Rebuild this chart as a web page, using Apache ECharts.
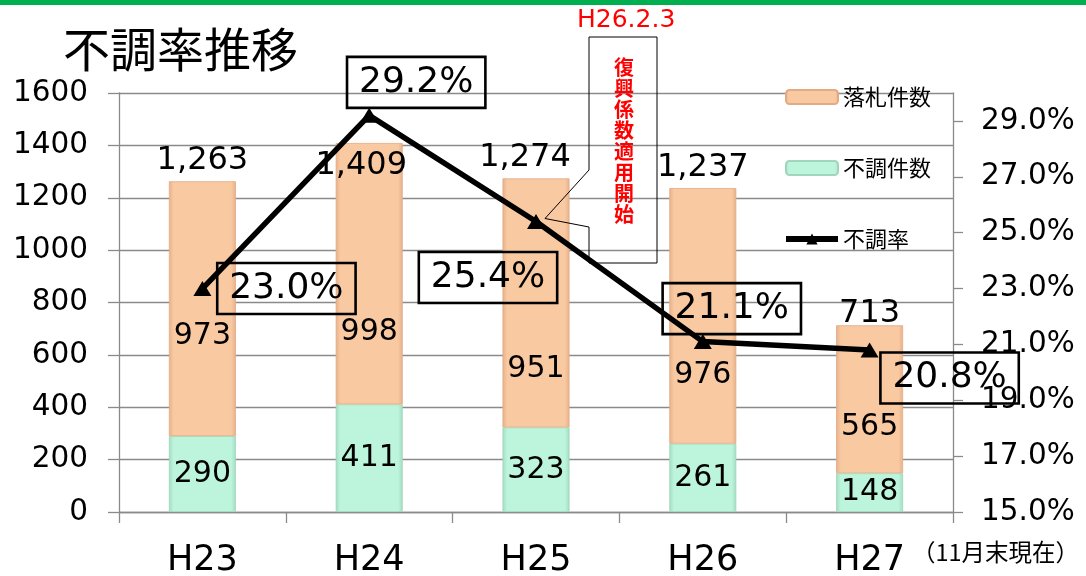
<!DOCTYPE html>
<html>
<head>
<meta charset="utf-8">
<script src="https://cdn.jsdelivr.net/npm/echarts@6/dist/echarts.min.js"></script>
<style>
  html, body { margin: 0; padding: 0; background: #fff; }
  #chart { width: 1086px; height: 576px; }
</style>
</head>
<body>
<div id="chart"></div>
<script>
// ---- data ----
const categories = ['H23', 'H24', 'H25', 'H26', 'H27'];
const fuchoCounts = [290, 411, 323, 261, 148];        // 不調件数
const rakusatsuCounts = [973, 998, 951, 976, 565];    // 落札件数
const fuchoRates = [23.0, 29.2, 25.4, 21.1, 20.8];    // 不調率 (%)
const rightTickValues = [15, 17, 19, 21, 23, 25, 27, 29];

// ---- label placement (style only) ----
const rakusatsuLabelDy = [28, 59, 66, 59, 28];
const totalLabelOffsets = [[0, 0], [-8, 43], [-11, 0], [0, 0], [0, 9]];
const rateLabelOffsets = [[84, 0], [47, -33], [-48, 56], [29, -33], [80, 28]];

const totals = categories.map((_, i) => fuchoCounts[i] + rakusatsuCounts[i]);

const NUM_FONT = "'DejaVu Sans', 'Noto Sans CJK JP', sans-serif";
const JP_FONT = "'Noto Sans CJK JP', 'DejaVu Sans', sans-serif";
const GRID_COLOR = '#8a8a8a';

const orangeFill = new echarts.graphic.LinearGradient(0, 0, 1, 0, [
  { offset: 0, color: '#e6b089' },
  { offset: 0.07, color: '#f9c9a1' },
  { offset: 0.93, color: '#f9c9a1' },
  { offset: 1, color: '#e6b089' }
]);
const greenFill = new echarts.graphic.LinearGradient(0, 0, 1, 0, [
  { offset: 0, color: '#a3dcc1' },
  { offset: 0.07, color: '#bdf5dc' },
  { offset: 0.93, color: '#bdf5dc' },
  { offset: 1, color: '#a3dcc1' }
]);

const chart = echarts.init(document.getElementById('chart'), null, { renderer: 'canvas' });

const option = {
  animation: false,
  backgroundColor: '#fff',
  grid: { left: 119, right: 133, top: 93, bottom: 64, containLabel: false, outerBoundsMode: 'none' },
  legend: {
    data: [
      { name: '落札件数' },
      { name: '不調件数' },
      { name: '不調率', lineStyle: { width: 6, color: '#000' } }
    ],
    orient: 'vertical',
    left: 783,
    top: 85,
    itemWidth: 52,
    itemHeight: 14,
    itemGap: 47,
    padding: 0,
    textStyle: { fontSize: 22, fontFamily: JP_FONT, color: '#000', lineHeight: 24 }
  },
  xAxis: {
    type: 'category',
    data: categories,
    axisLine: { lineStyle: { color: GRID_COLOR, width: 1.3 } },
    axisTick: { show: true, length: 11, lineStyle: { color: GRID_COLOR, width: 1.3 } },
    axisLabel: { fontSize: 35, fontFamily: NUM_FONT, color: '#000', margin: 31 }
  },
  yAxis: [
    {
      type: 'value',
      min: 0,
      max: 1600,
      interval: 200,
      axisLine: { show: true, lineStyle: { color: GRID_COLOR, width: 1.3 } },
      axisTick: { show: true, length: 11, lineStyle: { color: GRID_COLOR, width: 1.3 } },
      axisLabel: { fontSize: 29.5, fontFamily: NUM_FONT, color: '#000', margin: 31, formatter: v => String(v) },
      splitLine: { show: true, lineStyle: { color: GRID_COLOR, width: 1.3 } }
    },
    {
      type: 'value',
      position: 'right',
      min: 15,
      max: 30,
      axisLine: { show: true, lineStyle: { color: GRID_COLOR, width: 1.3 } },
      axisTick: { show: true, length: 10, customValues: rightTickValues, lineStyle: { color: GRID_COLOR, width: 1.3 } },
      axisLabel: {
        fontSize: 29.5, fontFamily: NUM_FONT, color: '#000', margin: 28,
        customValues: rightTickValues,
        formatter: v => v.toFixed(1) + '%'
      },
      splitLine: { show: false }
    }
  ],
  series: [
    {
      name: '不調件数',
      type: 'bar',
      stack: 'count',
      barWidth: 67,
      data: fuchoCounts,
      itemStyle: { color: greenFill, borderColor: '#9fd6bc', borderWidth: 0.8 },
      label: { show: true, position: 'inside', fontSize: 30, fontFamily: NUM_FONT, color: '#000' }
    },
    {
      name: '落札件数',
      type: 'bar',
      stack: 'count',
      barWidth: 67,
      data: rakusatsuCounts.map((v, i) => ({
        value: v,
        label: { offset: [0, rakusatsuLabelDy[i]] }
      })),
      itemStyle: { color: orangeFill, borderColor: '#e2ab84', borderWidth: 0.8 },
      label: { show: true, position: 'inside', fontSize: 30, fontFamily: NUM_FONT, color: '#000' }
    },
    {
      name: '合計',
      type: 'line',
      data: totals.map((v, i) => ({
        value: v,
        label: { offset: totalLabelOffsets[i] }
      })),
      symbol: 'circle',
      symbolSize: 1,
      showSymbol: true,
      itemStyle: { color: 'rgba(0,0,0,0)' },
      lineStyle: { opacity: 0 },
      silent: true,
      z: 3,
      label: {
        show: true, position: 'top', distance: 4,
        fontSize: 32, fontFamily: NUM_FONT, color: '#000',
        formatter: p => p.value.toLocaleString('en-US')
      }
    },
    {
      name: '不調率',
      type: 'line',
      yAxisIndex: 1,
      data: fuchoRates.map((v, i) => ({
        value: v,
        label: { offset: rateLabelOffsets[i] }
      })),
      symbol: 'triangle',
      symbolSize: [18, 15],
      lineStyle: { color: '#000', width: 5.5 },
      itemStyle: { color: '#000' },
      z: 5,
      label: {
        show: true,
        position: 'inside',
        fontSize: 36,
        fontFamily: NUM_FONT,
        color: '#000',
        borderColor: '#000',
        borderWidth: 1.3,
        padding: [9, 12, 6, 12],
        backgroundColor: 'transparent',
        formatter: p => p.value.toFixed(1) + '%'
      }
    }
  ]
};

chart.setOption(option);

// callout tip computed from the H25 rate point
const tip = chart.convertToPixel({ xAxisIndex: 0, yAxisIndex: 1 }, ['H25', fuchoRates[2]]);
const tipX = tip[0] + 9, tipY = tip[1] - 3;

chart.setOption({
  graphic: [
    { type: 'rect', left: 0, top: 0, shape: { width: 1086, height: 5 }, style: { fill: '#00b050' }, silent: true },
    {
      type: 'text', left: 63, top: 26,
      style: { text: '不調率推移', font: "47px 'Noto Sans CJK JP'", fill: '#000' }
    },
    {
      type: 'text', left: 577, top: 8,
      style: { text: 'H26.2.3', font: "25px 'DejaVu Sans'", fill: '#ff0000' }
    },
    {
      type: 'polygon',
      shape: { points: [[589, 37], [657, 37], [657, 263], [589, 263], [589, 227], [tipX, tipY], [589, 170]] },
      style: { fill: 'none', stroke: '#000', lineWidth: 1 },
      z: 10
    },
    {
      type: 'text', x: 624, y: 57,
      style: {
        text: '復\n興\n係\n数\n適\n用\n開\n始',
        font: "bold 20px 'Noto Sans CJK JP'",
        lineHeight: 21,
        fill: '#ff0000',
        align: 'center'
      },
      z: 10
    },
    {
      type: 'text', left: 912, top: 540,
      style: { text: '（11月末現在）', font: "23.5px 'Noto Sans CJK JP'", fill: '#000' }
    }
  ]
});
</script>
</body>
</html>
